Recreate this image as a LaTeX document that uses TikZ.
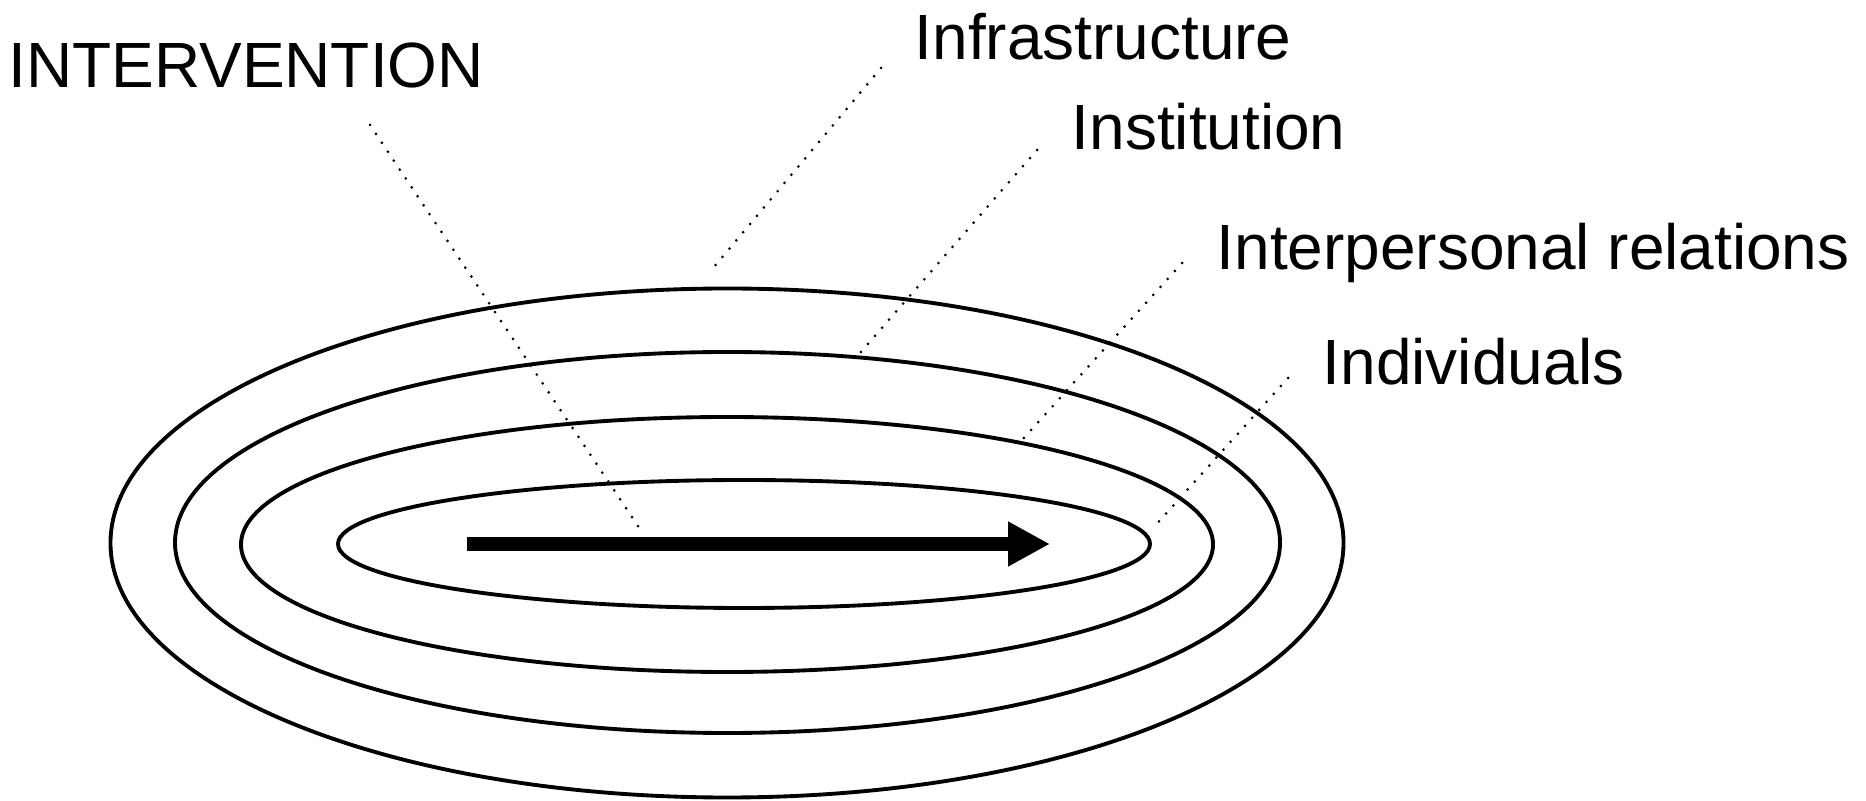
\documentclass[tikz,border=0pt]{standalone}
\usepackage{fontspec}
\setmainfont{Liberation Sans}
\usetikzlibrary{arrows.meta, positioning}

\begin{document}
\begin{tikzpicture}[every node/.style={font=\fontsize{18.2}{22}\selectfont, inner sep=0pt, anchor=base west},
  ring/.style={line width=1.1pt},
  leader/.style={line width=0.85pt, line cap=round, dash pattern=on 0pt off 3.05pt},
  push/.style={line width=4pt, -{Triangle[length=4.2mm, width=4.2mm]}}]
\useasboundingbox (0,0) rectangle (18.66,8);
% nested rings, outer to inner
\foreach \cx/\cy/\rx/\ry in {7.27/2.57/6.165/2.545, 7.275/2.575/5.525/1.905,
    7.27/2.555/4.86/1.275, 7.44/2.56/4.06/0.64}{
  \draw[ring] (\cx,\cy) ellipse [x radius=\rx, y radius=\ry];}
% labels
\node (interv) at (0.08,7.12) {INTERVENTION};
\node (infra) at (9.14,7.40) {Infrastructure};
\node (inst) at (10.71,6.50) {Institution};
\node (inter) at (12.16,5.30) {Interpersonal relations};
\node (indiv) at (13.22,4.15) {Individuals};
% leader ends
\coordinate (interv-a) at (3.70,6.75);  \coordinate (interv-b) at (6.42,2.68);
\coordinate (infra-a) at (8.81,7.32);   \coordinate (infra-b) at (7.14,5.33);
\coordinate (inst-a) at (10.37,6.50);   \coordinate (inst-b) at (8.60,4.47);
\coordinate (inter-a) at (11.82,5.37);  \coordinate (inter-b) at (10.22,3.60);
\coordinate (indiv-a) at (12.88,4.22);  \coordinate (indiv-b) at (11.53,2.72);
\foreach \n in {interv,infra,inst,inter,indiv}{
  \draw[leader] (\n-a) -- (\n-b);}
% intervention arrow
\coordinate (push-a) at (4.67,2.56);
\coordinate (push-b) at (10.50,2.56);
\draw[push] (push-a) -- (push-b);
\end{tikzpicture}
\end{document}
